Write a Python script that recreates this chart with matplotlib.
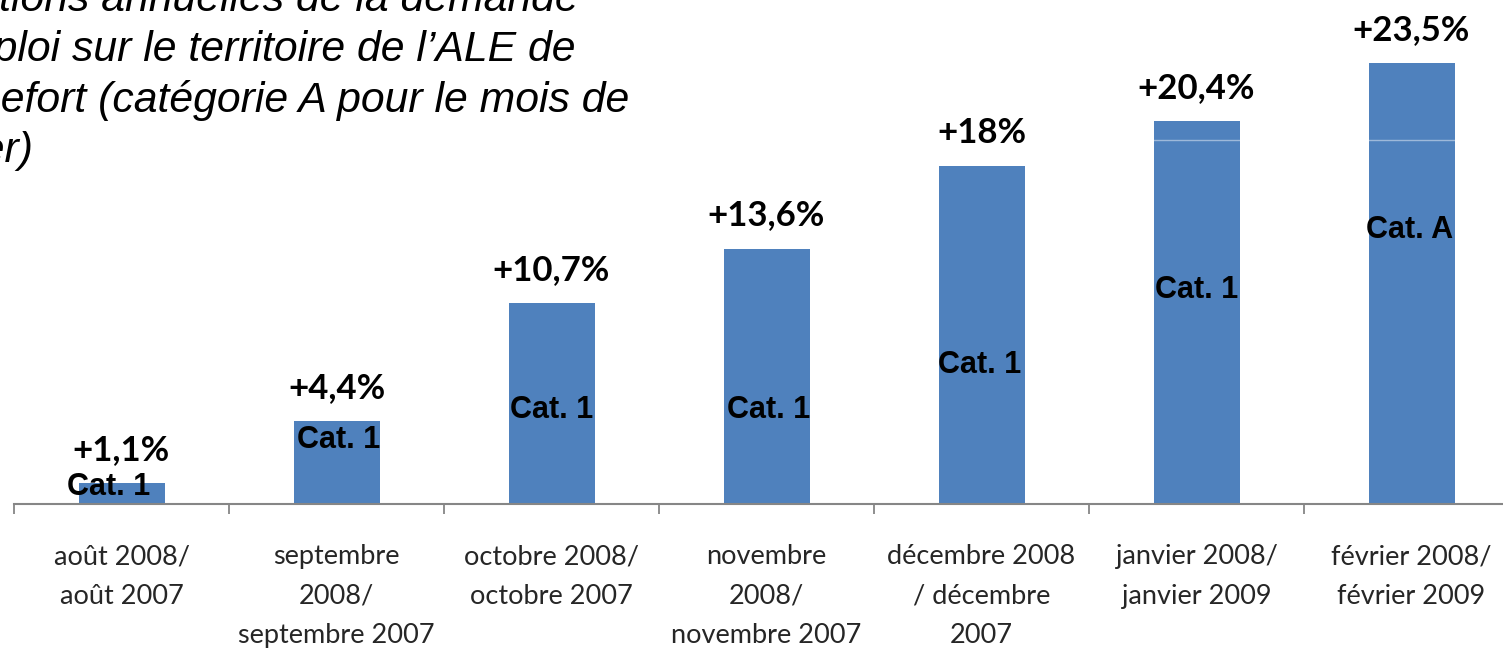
import matplotlib
matplotlib.use("Agg")
import matplotlib.pyplot as plt

# ---- data ----
categories = [
    "août 2008/\naoût 2007",
    "septembre\n2008/\nseptembre 2007",
    "octobre 2008/\noctobre 2007",
    "novembre\n2008/\nnovembre 2007",
    "décembre 2008\n/ décembre\n2007",
    "janvier 2008/\njanvier 2009",
    "février 2008/\nfévrier 2009",
]
values = [1.1, 4.4, 10.7, 13.6, 18.0, 20.4, 23.5]
value_labels = ["+1,1%", "+4,4%", "+10,7%", "+13,6%", "+18%", "+20,4%", "+23,5%"]
cat_labels = ["Cat. 1", "Cat. 1", "Cat. 1", "Cat. 1", "Cat. 1", "Cat. 1", "Cat. A"]
title_lines = [
    "Variations annuelles de la demande",
    "d\u2019emploi sur le territoire de l\u2019ALE de",
    "Rochefort (catégorie A pour le mois de",
    "février)",
]

# ---- layout (positions / styles) ----
cat_label_y = [0.9, 3.4, 5.0, 5.0, 7.4, 11.4, 14.6]
cat_label_dx = [-0.06, 0.01, 0.0, 0.01, -0.01, 0.0, -0.01]
bar_color = "#4F81BD"

W, H = 1503, 648
fig = plt.figure(figsize=(W / 100, H / 100), dpi=100)
ax = fig.add_axes([14 / W, 144 / H, 1505 / W, 504 / H])

x = list(range(len(values)))
ax.bar(x, values, width=0.4, color=bar_color, zorder=2)
ax.axhline(19.4, color="white", alpha=0.45, lw=1, zorder=3)

ax.set_xlim(-0.5, len(values) - 0.5)
ax.set_ylim(0, 504 / 18.77)

for s in ["left", "right", "top"]:
    ax.spines[s].set_visible(False)
ax.spines["bottom"].set_color("#868686")
ax.spines["bottom"].set_linewidth(1.5)
ax.set_yticks([])

ax.set_xticks([i - 0.5 for i in range(len(values) + 1)])
ax.set_xticklabels([])
ax.tick_params(axis="x", which="major", direction="out", length=7,
               width=1.3, color="#868686")
ax.set_xticks(x, minor=True)
ax.set_xticklabels(categories, minor=True, fontfamily="Lato", fontsize=19.5,
                   color="#262626", linespacing=1.72)
ax.tick_params(axis="x", which="minor", length=0, pad=29)

for xi, v, lab in zip(x, values, value_labels):
    ax.annotate(lab, (xi, v), xytext=(0, 24), textcoords="offset points",
                ha="center", va="center", fontfamily="Lato",
                fontweight="bold", fontsize=25, color="black", zorder=4)

for xi, yy, dx, lab in zip(x, cat_label_y, cat_label_dx, cat_labels):
    ax.text(xi + dx, yy, lab, ha="center", va="center",
            fontfamily="Liberation Sans", fontweight="bold", fontsize=22,
            color="black", zorder=5)

baselines = [11, 61.5, 112, 162.5]
for line, yb in zip(title_lines, baselines):
    fig.text(-99 / W, 1 - yb / H, line, ha="left", va="baseline",
             fontfamily="Liberation Sans", fontstyle="italic", fontsize=30.8,
             color="black")

fig.savefig("out.png", dpi=100)
